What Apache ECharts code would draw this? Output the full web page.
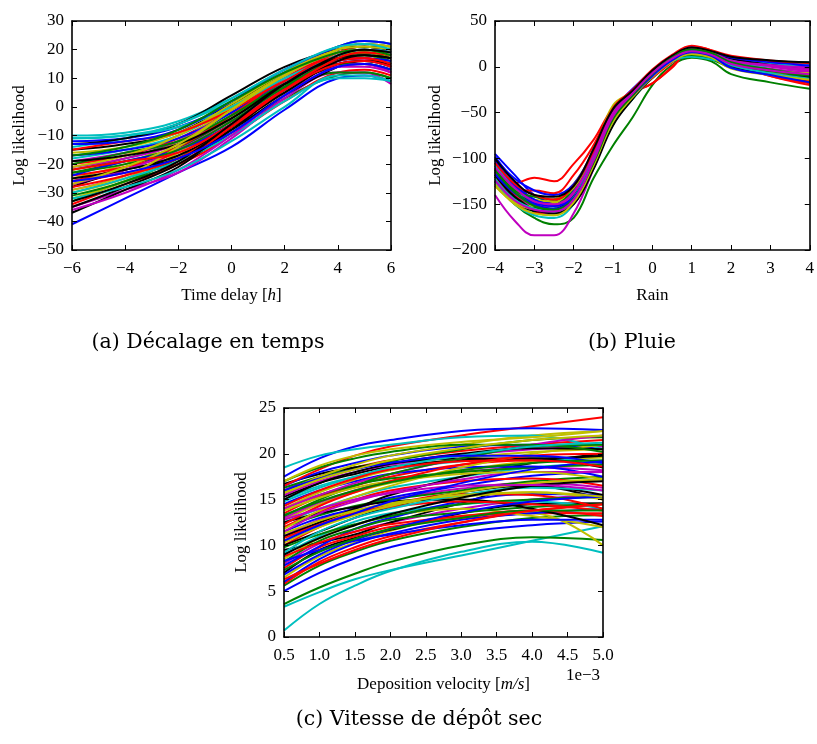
<!DOCTYPE html>
<html><head><meta charset="utf-8">
<script src="https://cdn.jsdelivr.net/npm/echarts@6/dist/echarts.min.js"></script>
<style>html,body{margin:0;padding:0;background:#fff}#c{width:817px;height:744px}</style>
</head><body><div id="c"></div>
<script>
// matplotlib classic colours
const colorMap = {b:'#0000ff', g:'#008000', r:'#ff0000', c:'#00bfbf', m:'#bf00bf', y:'#bfbf00', k:'#000000'};

// (a) Time delay [h]
const timeDelayX = [-6,-4,-2,0,2,4,5,6];
const timeDelayColors = 'bgrcmykbgrcmykbgrcmykbgrcmykbgrcmykrkymgkrbcygrkcb';
const timeDelayLines = [
  [-41,-32,-23,-14,-1,10,11,9],
  [-33,-26,-20,-9,3,11,12,10],
  [-27,-23,-20,-10,2,12,13,11],
  [-10,-9,-5,3,13,20,21,19],
  [-35,-29,-23,-11,3,12,12,8],
  [-32,-26,-17,-4,8,17,18,15],
  [-37,-29,-21,-7,7,17,19,17],
  [-12,-11,-7,1,12,20,22,21],
  [-22,-18,-12,-2,9,17,18,16],
  [-20,-17,-11,-1,10,18,19,17],
  [-18,-15,-10,0,11,19,20,18],
  [-29,-24,-15,-3,9,17,17,14],
  [-25,-20,-12,0,12,21,23,22],
  [-15,-13,-9,1,12,20,21,20],
  [-26,-22,-14,-5,7,15,16,14],
  [-31,-26,-18,-6,5,12,12,10],
  [-24,-21,-16,-6,7,15,15,12],
  [-14,-11,-6,2,12,21,23,22],
  [-21,-18,-13,-3,8,16,17,15],
  [-30,-25,-16,-4,9,18,19,17],
  [-28,-22,-18,-8,4,14,16,15],
  [-17,-15,-11,-2,9,18,20,19],
  [-23,-19,-14,-4,7,15,15,13],
  [-26,-21,-14,-3,10,19,21,20],
  [-30,-25,-19,-10,2,10,10,9],
  [-19,-16,-12,-1,11,19,20,19],
  [-16,-14,-9,0,11,20,22,21],
  [-13,-11,-6,4,14,20,21,20],
  [-24,-19,-15,-6,6,16,17,16],
  [-20,-16,-12,-3,8,14,15,13],
  [-34,-27,-20,-7,6,16,17,14],
  [-11,-10,-7,0,10,18,20,19],
  [-27,-22,-15,-5,6,14,14,12],
  [-21,-17,-10,1,12,20,21,20],
  [-25,-22,-17,-7,5,15,16,15],
  [-15,-12,-9,-1,9,17,17,15],
  [-35,-28,-20,-8,6,16,18,17],
  [-29,-24,-14,-1,11,20,22,21],
  [-36,-30,-22,-10,4,14,15,12],
  [-23,-20,-15,-5,7,17,19,18],
  [-19,-17,-13,-4,8,17,18,17],
  [-28,-24,-18,-7,6,17,19,18],
  [-13,-12,-8,2,13,21,23,22],
  [-32,-28,-22,-12,0,11,11,9],
  [-27,-21,-13,-1,11,19,20,18],
  [-17,-14,-8,2,12,19,20,18],
  [-22,-19,-16,-6,6,15,16,14],
  [-33,-27,-19,-6,8,18,20,19],
  [-11,-10,-6,3,13,21,22,20],
  [-26,-23,-18,-9,4,14,15,13]
];

// (b) Rain
const rainX = [-4,-3.5,-3,-2.5,-2,-1.5,-1,-0.5,0,0.5,1,1.5,2,3,4];
const rainColors = 'bgrcmykbgrcmykbgrcmykbgrcmykbgrcmykbgm';
const rainLines = [
  [-95,-118,-140,-148,-135,-98,-48,-24,-4,12,20,16,8,3,0],
  [-125,-150,-165,-172,-165,-122,-86,-55,-20,2,10,6,-8,-17,-24],
  [-120,-127,-121,-125,-106,-80,-45,-28,-18,0,22,18,5,-6,-18],
  [-112,-140,-158,-162,-145,-106,-60,-32,-10,6,13,10,2,-5,-12],
  [-140,-168,-184,-184,-160,-112,-60,-33,-10,8,17,14,5,-2,-6],
  [-125,-145,-150,-145,-128,-92,-42,-27,-5,10,14,10,0,-6,-10],
  [-112,-135,-153,-158,-145,-106,-58,-33,-8,12,20,17,10,3,-2],
  [-98,-125,-145,-148,-135,-98,-53,-28,-6,12,19,15,8,5,2],
  [-120,-142,-155,-160,-148,-110,-62,-35,-12,5,12,8,-1,-8,-16],
  [-125,-135,-135,-138,-118,-86,-45,-28,-18,-1,18,16,4,-10,-20],
  [-115,-140,-160,-155,-140,-103,-55,-30,-8,10,16,14,10,6,5],
  [-108,-130,-148,-152,-140,-100,-52,-30,-7,12,20,17,8,2,-4],
  [-118,-138,-145,-147,-132,-95,-46,-28,-6,10,15,11,2,-5,-8],
  [-120,-145,-158,-160,-150,-110,-62,-34,-12,6,18,15,3,-5,-10],
  [-105,-128,-145,-150,-140,-102,-58,-30,-9,9,17,15,9,4,0],
  [-118,-140,-150,-150,-132,-94,-47,-28,-7,9,14,11,2,-6,-12],
  [-130,-148,-160,-160,-145,-103,-55,-30,-12,5,20,17,3,-10,-18],
  [-108,-132,-150,-155,-142,-104,-60,-32,-9,9,13,10,8,4,3],
  [-110,-135,-155,-160,-148,-108,-58,-32,-8,10,21,16,6,0,-5],
  [-128,-148,-155,-150,-130,-92,-45,-26,-4,11,16,12,2,-4,-8],
  [-115,-140,-155,-155,-138,-98,-52,-30,-6,10,20,16,9,2,-2],
  [-100,-122,-135,-140,-128,-92,-50,-28,-7,11,22,17,10,5,2],
  [-120,-138,-148,-152,-140,-102,-56,-30,-9,8,15,12,3,-4,-10],
  [-122,-140,-150,-152,-137,-98,-50,-28,-10,8,19,15,4,-6,-15],
  [-125,-150,-162,-165,-150,-110,-63,-35,-11,6,11,8,4,1,4],
  [-115,-138,-150,-152,-138,-98,-53,-29,-8,10,19,15,6,1,-3],
  [-130,-148,-152,-148,-132,-94,-44,-27,-5,10,15,11,1,-5,-7],
  [-118,-142,-156,-160,-150,-112,-64,-35,-10,8,18,14,0,-8,-12],
  [-102,-130,-148,-152,-142,-104,-58,-31,-8,9,19,16,11,6,1],
  [-112,-135,-142,-145,-130,-93,-48,-27,-6,9,13,10,1,-5,-9],
  [-105,-128,-140,-145,-130,-93,-45,-25,-3,13,23,18,12,7,4],
  [-122,-145,-155,-158,-143,-102,-55,-30,-9,8,17,13,2,-7,-13],
  [-110,-132,-147,-150,-137,-97,-50,-28,-6,11,21,16,7,2,-1],
  [-128,-150,-160,-162,-148,-108,-60,-33,-11,6,14,10,-2,-9,-14],
  [-100,-125,-140,-142,-130,-90,-46,-26,-4,12,21,17,11,7,5],
  [-117,-138,-150,-155,-143,-104,-56,-31,-10,7,16,12,-1,-9,-17],
  [-113,-137,-152,-156,-144,-105,-57,-31,-8,10,19,15,5,-3,-9],
  [-124,-146,-156,-158,-145,-103,-54,-29,-7,9,17,13,3,-4,-8]
];

// (c) Deposition velocity [m/s] (x in units of 1e-3)
const depositionX = [0.5,1,1.5,2,3,4,5];
const depositionColors = 'ccgbgrybkrmkycbgrkymbgrckymrgbyckmrgkbyrbcmgrbkygrbcmykgrygcbykgyrmbry';
const depositionLines = [
  [0.7,3.6,5.6,7.2,9.3,10.4,9.2],
  [3.3,4.9,6.3,7.3,8.9,10.5,12.1],
  [3.6,5.4,6.9,8.2,10.0,10.9,10.6],
  [5.0,7.0,8.6,9.8,11.4,12.2,12.6],
  [5.6,7.8,9.3,10.5,12.0,13.0,13.3],
  [5.8,8.2,9.8,11.0,12.5,13.5,13.5],
  [6.5,8.8,10.3,11.6,13.2,13.5,10.0],
  [6.0,8.5,10.2,11.3,12.8,13.5,14.0],
  [7.0,9.5,10.8,11.7,13.5,14.5,14.6],
  [7.5,9.8,11.0,12.0,13.0,13.8,14.5],
  [8.0,10.2,11.5,12.5,14.0,15.0,15.5],
  [9.5,10.3,11.2,12.5,14.6,16.5,15.0],
  [8.5,10.8,12.2,13.2,14.0,13.2,12.0],
  [9.0,11.0,12.6,13.5,14.5,14.8,14.0],
  [7.8,9.9,11.8,13.0,14.8,15.6,15.5],
  [8.2,10.5,11.8,12.8,13.6,14.2,14.5],
  [10.0,12.0,13.5,14.5,15.6,15.5,14.0],
  [10.0,11.5,13.0,14.2,15.8,16.5,15.5],
  [10.5,12.5,13.7,14.5,15.3,15.8,15.0],
  [11.0,12.8,14.0,15.0,16.2,16.8,16.3],
  [11.5,13.0,14.0,15.2,16.5,17.6,18.0],
  [12.0,13.3,14.3,15.0,16.0,17.0,17.5],
  [12.0,13.7,15.0,16.0,17.0,17.3,16.5],
  [12.5,14.0,15.3,16.3,17.5,18.5,19.0],
  [11.0,12.5,14.0,15.5,17.5,19.0,20.0],
  [12.8,14.5,15.8,16.8,18.2,19.2,19.6],
  [13.0,14.7,16.0,17.0,18.0,18.5,18.2],
  [13.5,15.3,16.5,17.5,18.8,19.3,19.0],
  [14.0,15.5,16.6,17.3,18.0,18.5,18.8],
  [14.5,16.0,17.0,17.8,18.5,18.6,17.5],
  [14.0,15.8,17.2,18.2,19.5,20.2,20.5],
  [15.0,16.5,17.5,18.3,19.2,19.5,19.0],
  [15.3,16.8,17.8,18.6,19.3,19.5,18.5],
  [15.5,17.0,18.0,18.8,19.8,20.5,20.8],
  [16.0,17.5,18.5,19.3,20.3,21.0,21.5],
  [16.3,17.5,18.5,19.2,20.5,21.5,21.8],
  [16.7,17.8,18.5,19.0,19.5,19.5,19.8],
  [16.5,18.0,19.0,19.8,20.8,21.0,20.5],
  [15.8,17.5,18.8,19.8,21.0,22.0,22.5],
  [16.5,18.3,19.8,20.8,22.0,23.0,24.0],
  [17.5,19.5,20.8,21.5,22.5,22.8,22.6],
  [18.5,19.8,20.5,21.0,21.8,22.0,20.5],
  [14.0,15.5,16.8,17.8,19.5,21.0,22.0],
  [9.8,11.2,12.3,13.2,14.5,15.0,15.3],
  [8.8,10.3,11.5,12.3,13.2,13.8,13.2],
  [8.3,9.5,10.5,11.2,12.2,12.8,12.8],
  [12.5,13.5,14.2,14.8,15.0,14.0,12.2],
  [11.8,13.8,15.3,16.5,18.5,20.0,21.0],
  [13.2,15.0,16.5,17.8,19.5,20.8,21.0],
  [10.8,12.3,13.5,14.2,14.8,14.5,13.8],
  [6.8,9.0,10.6,11.8,13.6,14.8,15.3],
  [9.2,11.5,13.0,14.0,15.5,16.3,16.0],
  [11.5,13.5,14.8,15.8,17.2,18.0,18.0],
  [13.8,15.2,16.3,17.0,17.8,18.0,17.2],
  [15.0,16.8,18.0,18.9,20.0,20.6,20.5],
  [17.0,18.5,19.5,20.2,21.0,21.0,20.2],
  [12.3,14.3,15.8,17.0,18.8,19.8,20.0],
  [10.3,12.0,13.3,14.3,15.8,16.8,17.2],
  [7.3,9.3,10.7,11.8,13.0,13.8,13.8],
  [14.8,16.3,17.5,18.5,19.8,20.8,21.2],
  [16.0,17.3,18.3,19.0,19.8,19.8,19.0],
  [11.3,12.7,13.8,14.6,15.5,15.8,15.3],
  [9.0,10.8,12.2,13.4,15.2,16.5,17.0],
  [13.3,14.8,16.0,16.9,18.2,19.0,19.3],
  [15.7,17.2,18.3,19.3,20.6,21.5,22.0],
  [6.3,8.0,9.5,10.7,12.5,13.8,14.5],
  [12.8,14.0,15.0,15.7,16.5,16.6,16.0],
  [10.5,12.2,13.5,14.8,16.8,18.3,19.2],
  [14.3,16.0,17.3,18.3,19.2,19.3,18.6],
  [17.0,18.7,19.8,20.5,21.3,21.8,22.5]
];

const captions = ['(a) Décalage en temps', '(b) Pluie', '(c) Vitesse de dépôt sec'];

const SERIF = 'Liberation Serif';
const minusFmt = v => String(v).replace('-', '\u2212');
const fixedFmt = v => v.toFixed(1);

const grids = [
  {left:72, top:21, width:319, height:229},
  {left:495, top:21, width:319, height:229},
  {left:284, top:408, width:319, height:229}
];

const axisSpec = [
  {xmin:-6, xmax:6, xint:2, ymin:-50, ymax:30, yint:10, xname:'Time delay [{i|h}]', yname:'Log likelihood', xgap:37, ygap:44, xfmt:minusFmt},
  {xmin:-4, xmax:4, xint:1, ymin:-200, ymax:50, yint:50, xname:'Rain', yname:'Log likelihood', xgap:37, ygap:51, xfmt:minusFmt},
  {xmin:0.5, xmax:5, xint:0.5, ymin:0, ymax:25, yint:5, xname:'Deposition velocity [{i|m/s}]', yname:'Log likelihood', xgap:39, ygap:34, xfmt:fixedFmt}
];

const lineSty = {color:'#000', width:1.6};
const tickSty = {inside:true, length:5, lineStyle:{color:'#000', width:1}};
const nameSty = {fontFamily:SERIF, fontSize:17, color:'#000', rich:{i:{fontFamily:SERIF, fontSize:17, fontStyle:'italic', color:'#000'}}};

const xAxes = [], yAxes = [];
axisSpec.forEach((s, g) => {
  xAxes.push({type:'value', gridIndex:g, position:'bottom', min:s.xmin, max:s.xmax, interval:s.xint, z:10,
    axisLine:{show:true, onZero:false, lineStyle:lineSty}, axisTick:tickSty, splitLine:{show:false},
    axisLabel:{color:'#000', fontFamily:SERIF, fontSize:17, margin:10, formatter:s.xfmt, showMinLabel:true, showMaxLabel:true},
    name:s.xname, nameLocation:'middle', nameGap:s.xgap, nameTextStyle:nameSty});
  xAxes.push({type:'value', gridIndex:g, position:'top', min:s.xmin, max:s.xmax, interval:s.xint, z:10,
    axisLine:{show:true, onZero:false, lineStyle:lineSty}, axisTick:tickSty, splitLine:{show:false}, axisLabel:{show:false}});
  yAxes.push({type:'value', gridIndex:g, position:'left', min:s.ymin, max:s.ymax, interval:s.yint, z:10,
    axisLine:{show:true, onZero:false, lineStyle:lineSty}, axisTick:tickSty, splitLine:{show:false},
    axisLabel:{color:'#000', fontFamily:SERIF, fontSize:17, margin:8, formatter:minusFmt, showMinLabel:true, showMaxLabel:true},
    name:s.yname, nameLocation:'middle', nameGap:s.ygap, nameTextStyle:nameSty});
  yAxes.push({type:'value', gridIndex:g, position:'right', min:s.ymin, max:s.ymax, interval:s.yint, z:10,
    axisLine:{show:true, onZero:false, lineStyle:lineSty}, axisTick:tickSty, splitLine:{show:false}, axisLabel:{show:false}});
});

const series = [];
[[timeDelayX, timeDelayLines, timeDelayColors], [rainX, rainLines, rainColors], [depositionX, depositionLines, depositionColors]].forEach(([xs, lines, cols], g) => {
  lines.forEach((ys, k) => {
    series.push({type:'line', xAxisIndex:2*g, yAxisIndex:2*g, smooth:0.4, showSymbol:false, silent:true,
      lineStyle:{width:2, color:colorMap[cols[k]]},
      data: xs.map((x, i) => [x, ys[i]])});
  });
});

const capStyle = {fontFamily:'DejaVu Serif', fontSize:20.5, fill:'#000', align:'center', verticalAlign:'middle'};
const chart = echarts.init(document.getElementById('c'), null, {renderer:'canvas'});
chart.setOption({
  animation:false,
  backgroundColor:'#fff',
  grid:grids,
  xAxis:xAxes,
  yAxis:yAxes,
  series:series,
  graphic:[
    {type:'text', x:208, y:343, style:Object.assign({text:captions[0]}, capStyle)},
    {type:'text', x:632, y:343, style:Object.assign({text:captions[1]}, capStyle)},
    {type:'text', x:419, y:720, style:Object.assign({text:captions[2]}, capStyle)},
    {type:'text', x:583, y:676, style:{text:'1e\u22123', fontFamily:SERIF, fontSize:17, fill:'#000', align:'center', verticalAlign:'middle'}}
  ]
});
</script></body></html>
